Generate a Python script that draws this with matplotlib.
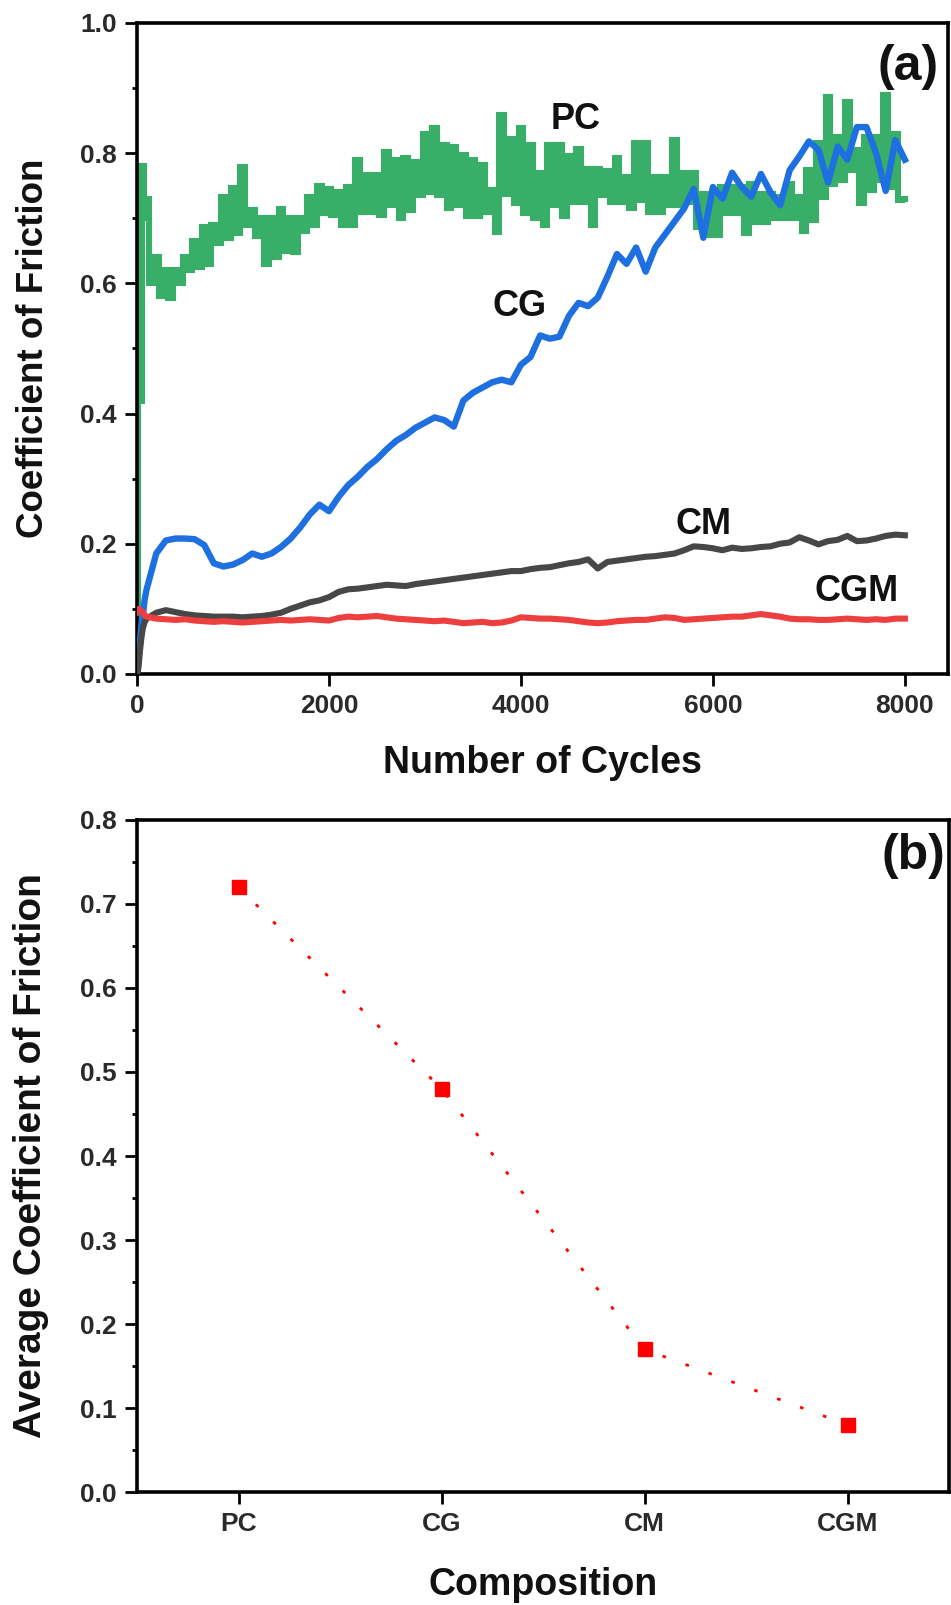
import numpy as np
import matplotlib
matplotlib.use("Agg")
import matplotlib.pyplot as plt
from matplotlib.ticker import MultipleLocator, FormatStrFormatter

plt.rcParams['font.family'] = ['Liberation Sans', 'DejaVu Sans']

# ---------------- data ----------------
early_cycles = [0, 15, 30, 45, 60, 80]
main_cycles = list(range(100, 8001, 100))           # CG, CM, CGM sampling
pc_main_cycles = list(range(100, 8001, 50))         # PC sampling (noisy signal)

pc_early = [0.0, 0.78, 0.62, 0.42, 0.78, 0.70]
pc_main = [
    0.73, 0.60, 0.64, 0.58, 0.62, 0.578, 0.62, 0.60, 0.64, 0.62,
    0.665, 0.625, 0.687, 0.63, 0.69, 0.662, 0.732, 0.67, 0.746, 0.677,
    0.778, 0.69, 0.712, 0.672, 0.70, 0.63, 0.70, 0.64, 0.714, 0.65,
    0.70, 0.648, 0.70, 0.68, 0.733, 0.69, 0.75, 0.708, 0.745, 0.705,
    0.74, 0.69, 0.748, 0.69, 0.79, 0.71, 0.766, 0.71, 0.766, 0.705,
    0.802, 0.72, 0.79, 0.70, 0.792, 0.712, 0.787, 0.736, 0.83, 0.74,
    0.838, 0.736, 0.812, 0.715, 0.81, 0.72, 0.797, 0.703, 0.79, 0.703,
    0.782, 0.71, 0.743, 0.679, 0.858, 0.738, 0.822, 0.723, 0.838, 0.708,
    0.812, 0.70, 0.77, 0.69, 0.812, 0.72, 0.812, 0.703, 0.795, 0.725,
    0.807, 0.725, 0.775, 0.69, 0.775, 0.736, 0.772, 0.725, 0.792, 0.725,
    0.764, 0.715, 0.815, 0.728, 0.815, 0.71, 0.764, 0.71, 0.764, 0.72,
    0.82, 0.72, 0.77, 0.725, 0.77, 0.687, 0.738, 0.674, 0.738, 0.674,
    0.748, 0.708, 0.748, 0.708, 0.748, 0.677, 0.753, 0.695, 0.738, 0.695,
    0.738, 0.70, 0.733, 0.70, 0.753, 0.70, 0.733, 0.68, 0.774, 0.697,
    0.815, 0.733, 0.887, 0.753, 0.825, 0.758, 0.879, 0.774, 0.805, 0.723,
    0.825, 0.743, 0.825, 0.758, 0.89, 0.748, 0.83, 0.728, 0.73,
]

cg_early = [0.0, 0.02, 0.05, 0.075, 0.09, 0.115]
cg_main = [
    0.13, 0.185, 0.205, 0.208, 0.208, 0.207, 0.198, 0.17, 0.165, 0.168,
    0.175, 0.185, 0.18, 0.185, 0.195, 0.208, 0.225, 0.245, 0.26, 0.25,
    0.272, 0.29, 0.303, 0.318, 0.33, 0.345, 0.358, 0.367, 0.378, 0.386,
    0.394, 0.39, 0.38, 0.42, 0.432, 0.44, 0.448, 0.452, 0.448, 0.475,
    0.487, 0.52, 0.515, 0.518, 0.55, 0.57, 0.565, 0.578, 0.61, 0.645,
    0.63, 0.655, 0.618, 0.655, 0.675, 0.695, 0.715, 0.745, 0.67, 0.748,
    0.73, 0.77, 0.748, 0.733, 0.768, 0.74, 0.72, 0.774, 0.795, 0.818,
    0.805, 0.755, 0.81, 0.79, 0.84, 0.84, 0.8, 0.742, 0.82, 0.79,
]

cm_early = [0.0, 0.01, 0.035, 0.055, 0.07, 0.08]
cm_main = [
    0.085, 0.094, 0.098, 0.095, 0.092, 0.09, 0.089, 0.088, 0.088, 0.088,
    0.087, 0.088, 0.089, 0.091, 0.094, 0.1, 0.105, 0.11, 0.113, 0.118,
    0.126, 0.13, 0.131, 0.133, 0.135, 0.137, 0.136, 0.135, 0.138, 0.14,
    0.142, 0.144, 0.146, 0.148, 0.15, 0.152, 0.154, 0.156, 0.158, 0.158,
    0.161, 0.163, 0.164, 0.167, 0.17, 0.172, 0.176, 0.162, 0.172, 0.174,
    0.176, 0.178, 0.18, 0.181, 0.183, 0.185, 0.19, 0.196, 0.195, 0.193,
    0.19, 0.194, 0.192, 0.193, 0.195, 0.196, 0.2, 0.202, 0.21, 0.205,
    0.199, 0.204, 0.206, 0.212, 0.204, 0.205, 0.208, 0.212, 0.214, 0.213,
]

cgm_early = [0.095, 0.1, 0.098, 0.097, 0.095, 0.09]
cgm_main = [
    0.088, 0.085, 0.084, 0.083, 0.084, 0.082, 0.081, 0.08, 0.081, 0.08,
    0.079, 0.08, 0.081, 0.082, 0.083, 0.082, 0.083, 0.084, 0.083, 0.082,
    0.086, 0.088, 0.087, 0.088, 0.089, 0.087, 0.085, 0.084, 0.083, 0.082,
    0.081, 0.082, 0.08, 0.078, 0.079, 0.08, 0.078, 0.079, 0.082, 0.087,
    0.086, 0.085, 0.085, 0.084, 0.083, 0.081, 0.079, 0.078, 0.079, 0.081,
    0.082, 0.083, 0.083, 0.085, 0.087, 0.086, 0.083, 0.084, 0.085, 0.086,
    0.087, 0.088, 0.088, 0.09, 0.092, 0.09, 0.088, 0.085, 0.084, 0.084,
    0.083, 0.083, 0.084, 0.085, 0.084, 0.083, 0.084, 0.083, 0.085, 0.085,
]

compositions = ["PC", "CG", "CM", "CGM"]
avg_cof = [0.72, 0.48, 0.17, 0.08]

series_labels = ["PC", "CG", "CM", "CGM"]
x_ticks_a = [0, 2000, 4000, 6000, 8000]

# ---------------- style ----------------
C_PC = '#38AE68'
C_CG = '#1E6FE0'
C_CM = '#474747'
C_CGM = '#EE3F3F'
TICK_COLOR = '#2a2a2a'


def style_axes(ax):
    for sp in ax.spines.values():
        sp.set_linewidth(2.6)
        sp.set_color('black')
    ax.tick_params(which='major', direction='out', length=8.5, width=2.0,
                   labelsize=19, pad=6, colors='black', labelcolor=TICK_COLOR,
                   top=False, right=False)
    ax.tick_params(which='minor', direction='out', length=3.8, width=2.0,
                   top=False, right=False)
    for lbl in ax.get_xticklabels() + ax.get_yticklabels():
        lbl.set_fontweight('bold')


fig = plt.figure(figsize=(9.51, 16.05), dpi=100)

# ---------------- panel (a) ----------------
ax1 = fig.add_axes([0.1441, 0.5801, 0.8528, 0.4056])
ax1.plot(early_cycles + pc_main_cycles, pc_early + pc_main, color=C_PC, lw=4.4,
         drawstyle='steps-mid', solid_joinstyle='miter', zorder=2)
ax1.plot(early_cycles + main_cycles, cg_early + cg_main, color=C_CG, lw=4.6, zorder=3)
ax1.plot(early_cycles + main_cycles, cm_early + cm_main, color=C_CM, lw=4.4, zorder=4)
ax1.plot(early_cycles + main_cycles, cgm_early + cgm_main, color=C_CGM, lw=4.4, zorder=5)

ax1.set_xlim(0, 8450)
ax1.set_ylim(0, 1.0)
ax1.set_xticks(x_ticks_a)
ax1.yaxis.set_major_locator(MultipleLocator(0.2))
ax1.yaxis.set_minor_locator(MultipleLocator(0.1))
ax1.yaxis.set_major_formatter(FormatStrFormatter('%.1f'))
style_axes(ax1)

ax1.set_xlabel("Number of Cycles", fontsize=27, fontweight='bold', color='#111111')
ax1.set_ylabel("Coefficient of Friction", fontsize=26.5, fontweight='bold', color='#111111')
ax1.xaxis.label.set_va('center')
ax1.yaxis.label.set_va('center')
ax1.xaxis.set_label_coords(0.5, -0.137)
ax1.yaxis.set_label_coords(-0.128, 0.5)

label_pos = {"PC": (4573, 0.851), "CG": (3990, 0.565), "CM": (5906, 0.229), "CGM": (7500, 0.126)}
for name in series_labels:
    x, y = label_pos[name]
    ax1.text(x, y, name, fontsize=26, fontweight='bold', ha='center', va='center',
             color='#111111', zorder=6)
ax1.text(0.951, 0.932, "(a)", transform=ax1.transAxes, fontsize=36, fontweight='bold',
         ha='center', va='center', color='#111111')

# ---------------- panel (b) ----------------
ax2 = fig.add_axes([0.1441, 0.0704, 0.8538, 0.4187])
pos = np.arange(1, len(compositions) + 1)
ax2.plot(pos, avg_cof, color='#FF0000', lw=2.0, linestyle=(0, (1.3, 7.5)),
         dash_capstyle='butt', zorder=2)
ax2.plot(pos, avg_cof, 's', color='#FF0000', ms=9.5, zorder=3)

ax2.set_xlim(0.5, 4.5)
ax2.set_ylim(0, 0.8)
ax2.set_xticks(pos)
ax2.set_xticklabels(compositions)
ax2.yaxis.set_major_locator(MultipleLocator(0.1))
ax2.yaxis.set_minor_locator(MultipleLocator(0.05))
ax2.yaxis.set_major_formatter(FormatStrFormatter('%.1f'))
style_axes(ax2)

ax2.set_xlabel("Composition", fontsize=27, fontweight='bold', color='#111111')
ax2.set_ylabel("Average Coefficient of Friction", fontsize=28, fontweight='bold', color='#111111')
ax2.xaxis.label.set_va('center')
ax2.yaxis.label.set_va('center')
ax2.xaxis.set_label_coords(0.5, -0.138)
ax2.yaxis.set_label_coords(-0.130, 0.5)
ax2.text(0.956, 0.946, "(b)", transform=ax2.transAxes, fontsize=36, fontweight='bold',
         ha='center', va='center', color='#111111')

fig.savefig("out.png", dpi=100)
